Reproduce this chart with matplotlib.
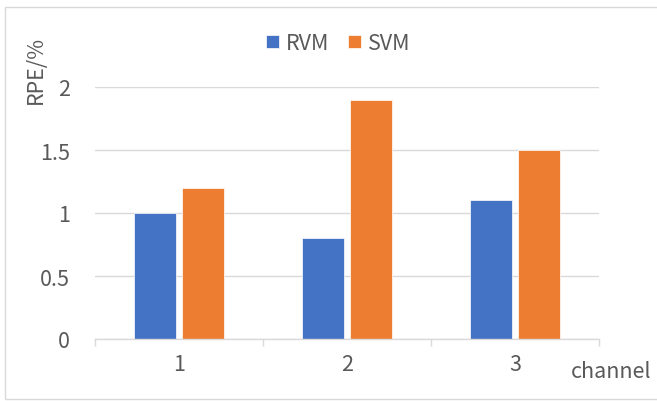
import matplotlib
matplotlib.use("Agg")
import matplotlib.pyplot as plt
from matplotlib.patches import Rectangle
import numpy as np

categories = ["1", "2", "3"]
rvm = [1.0, 0.8, 1.1]
svm = [1.2, 1.9, 1.5]
yticks = [0, 0.5, 1, 1.5, 2]
ytick_labels = ["0", "0.5", "1", "1.5", "2"]

plt.rcParams['font.family'] = ['Noto Sans CJK SC', 'DejaVu Sans']
txt = "#595959"
grid = "#D9D9D9"
fs = 15.5

fig = plt.figure(figsize=(6.57, 4.02), dpi=100)
fig.patches.append(Rectangle((5/657, 2/402), 660/657, 392/402, transform=fig.transFigure,
                             fill=False, edgecolor="#D9D9D9", linewidth=1))
ax = fig.add_axes([95/657, 1 - 340/402, 504/657, 252/402])

x = np.arange(1, len(categories) + 1)
w = 0.25
off = 0.14
ax.bar(x - off, rvm, w, color="#4472C4", label="RVM", zorder=3, edgecolor="white", linewidth=0.5)
ax.bar(x + off, svm, w, color="#ED7D31", label="SVM", zorder=3, edgecolor="white", linewidth=0.5)

ax.set_xlim(0.5, 3.5)
ax.set_ylim(0, 2)
ax.set_yticks(yticks)
ax.set_yticklabels(ytick_labels)
ax.set_xticks(x)
ax.set_xticklabels(categories)
ax.set_xticks([0.5, 1.5, 2.5, 3.5], minor=True)
ax.tick_params(axis='x', which='major', length=0, pad=10, labelsize=fs, labelcolor=txt)
ax.tick_params(axis='x', which='minor', length=5, width=1, color=grid)
ax.tick_params(axis='y', length=0, pad=18, labelsize=fs, labelcolor=txt)
for lab in ax.get_yticklabels():
    lab.set_horizontalalignment('right')

ax.yaxis.grid(True, color=grid, linewidth=1, zorder=0)
ax.set_axisbelow(True)
for s in ["top", "right", "left"]:
    ax.spines[s].set_visible(False)
ax.spines["bottom"].set_color(grid)
ax.spines["bottom"].set_linewidth(1)
ax.spines["bottom"].set_zorder(4)

fig.text(36/657, 1 - 70/402, "RPE/%", rotation=90, ha="center", va="center", fontsize=fs, color=txt)
fig.text(611/657, 1 - 372/402, "channel", ha="center", va="center", fontsize=fs, color=txt)

leg = fig.legend(loc="center", bbox_to_anchor=(338/657, 1 - 44/402), ncol=2, frameon=False,
                 fontsize=fs, handlelength=0.6, handleheight=0.6, handletextpad=0.3,
                 columnspacing=0.9, labelcolor=txt)

fig.savefig("out.png", dpi=100)
